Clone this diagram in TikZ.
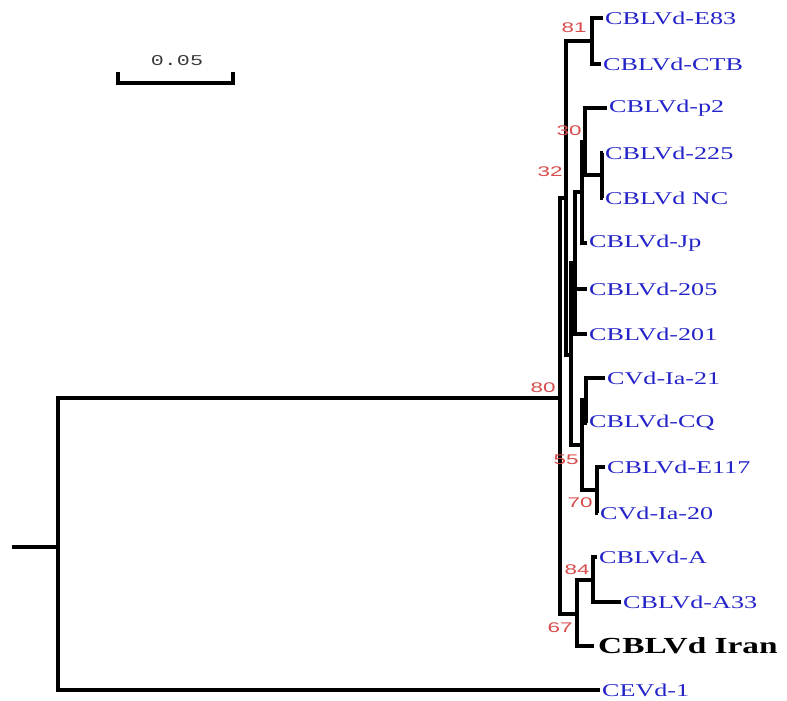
\documentclass[tikz,border=0pt]{standalone}
\usepackage{fontspec}
\newfontfamily\lblfont[FakeStretch=1.45]{Liberation Serif}
\newfontfamily\bsfont[FakeStretch=1.6]{Liberation Sans}
\newfontfamily\scfont[FakeStretch=1.45]{Liberation Mono}
\definecolor{leafblue}{RGB}{35,35,200}
\definecolor{bootred}{RGB}{215,75,75}
\definecolor{scalegray}{RGB}{60,60,60}
\tikzset{
  branch/.style={line width=3.2pt, line join=miter},
  leaf/.style={anchor=west, inner xsep=2pt, inner ysep=0pt, text=leafblue, font=\lblfont\fontsize{18}{18}\selectfont},
  ownleaf/.style={anchor=west, inner xsep=4pt, inner ysep=0pt, text=black, font=\lblfont\bfseries\fontsize{23}{23}\selectfont},
  boot/.style={inner sep=0pt, text=bootred, font=\bsfont\fontsize{14}{14}\selectfont},
  scalelbl/.style={inner sep=0pt, text=scalegray, font=\scfont\fontsize{15}{15}\selectfont}
}
\begin{document}
\begin{tikzpicture}[x=1pt,y=-1pt]
\useasboundingbox (0,0) rectangle (787,701);
% internal nodes
\coordinate (rs) at (12,547);
\coordinate (root) at (58,547);
\coordinate (n80) at (560,398);
\coordinate (n32) at (566,198);
\coordinate (n81) at (592,41);
\coordinate (nX) at (571,355);
\coordinate (nY) at (575,263);
\coordinate (nJ) at (582,192);
\coordinate (n30) at (585,142);
\coordinate (n225) at (602,175);
\coordinate (n55) at (582,445);
\coordinate (nCQ) at (586,400);
\coordinate (n70) at (597,490);
\coordinate (n67) at (577,614);
\coordinate (n84) at (593,580);
% leaves
\node[leaf] (e83) at (603,18) {CBLVd-E83};
\node[leaf] (ctb) at (601,64) {CBLVd-CTB};
\node[leaf] (p2) at (607,108) {CBLVd-p2};
\node[leaf] (c225) at (603,153) {CBLVd-225};
\node[leaf] (nc) at (603,198) {CBLVd NC};
\node[leaf] (jp) at (587,243) {CBLVd-Jp};
\node[leaf] (c205) at (587,289) {CBLVd-205};
\node[leaf] (c201) at (587,334) {CBLVd-201};
\node[leaf] (ia21) at (605,378) {CVd-Ia-21};
\node[leaf] (cq) at (587,423) {CBLVd-CQ};
\node[leaf] (e117) at (605,467) {CBLVd-E117};
\node[leaf] (ia20) at (598,513) {CVd-Ia-20};
\node[leaf] (ca) at (597,557) {CBLVd-A};
\node[leaf] (a33) at (621,602) {CBLVd-A33};
\node[ownleaf] (iran) at (594,646) {CBLVd Iran};
\node[leaf] (cevd) at (600,690) {CEVd-1};
% branches
\draw[branch] (rs) -- (root);
\draw[branch] (root) |- (n80);
\draw[branch] (root) |- (cevd.west);
\draw[branch] (n80) |- (n32);
\draw[branch] (n80) |- (n67);
\draw[branch] (n32) |- (n81);
\draw[branch] (n32) |- (nX);
\draw[branch] (n81) |- (e83.west);
\draw[branch] (n81) |- (ctb.west);
\draw[branch] (nX) |- (nY);
\draw[branch] (nX) |- (n55);
\draw[branch] (nY) |- (nJ);
\draw[branch] (nY) |- (c205.west);
\draw[branch] (nY) |- (c201.west);
\draw[branch] (nJ) |- (n30);
\draw[branch] (nJ) |- (jp.west);
\draw[branch] (n30) |- (p2.west);
\draw[branch] (n30) |- (n225);
\draw[branch] (n225) |- (c225.west);
\draw[branch] (n225) |- (nc.west);
\draw[branch] (n55) |- (nCQ);
\draw[branch] (n55) |- (n70);
\draw[branch] (nCQ) |- (ia21.west);
\draw[branch] (nCQ) |- (cq.west);
\draw[branch] (n70) |- (e117.west);
\draw[branch] (n70) |- (ia20.west);
\draw[branch] (n67) |- (n84);
\draw[branch] (n67) |- (iran.west);
\draw[branch] (n84) |- (ca.west);
\draw[branch] (n84) |- (a33.west);
% bootstrap values
\node[boot] (b81) at (574,28) {81};
\node[boot] (b30) at (569,131) {30};
\node[boot] (b32) at (550,172) {32};
\node[boot] (b80) at (543,388) {80};
\node[boot] (b55) at (566,460) {55};
\node[boot] (b70) at (580,503) {70};
\node[boot] (b84) at (577,570) {84};
\node[boot] (b67) at (560,628) {67};
% scale bar
\coordinate (sbl) at (118,72);
\coordinate (sbr) at (233,72);
\draw[branch] (sbl) -- ++(0,11) -| (sbr);
\node[scalelbl] (sblbl) at (177,61) {0.05};
\end{tikzpicture}
\end{document}
